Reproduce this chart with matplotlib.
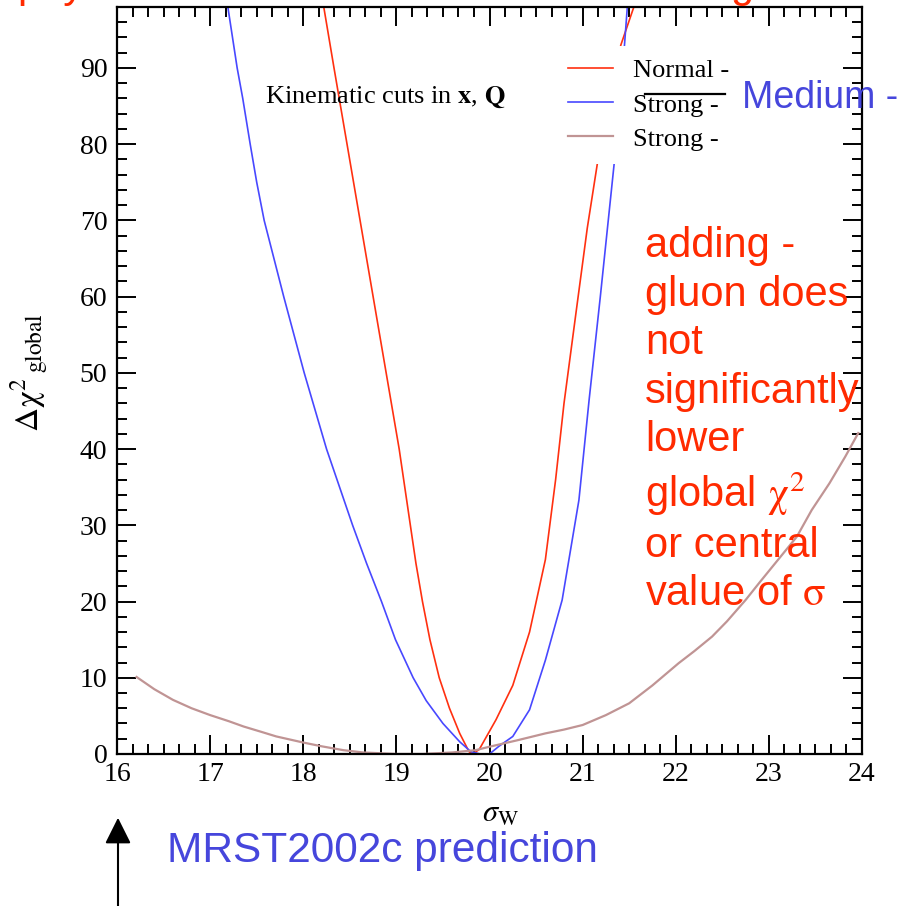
import numpy as np
import matplotlib
matplotlib.use('Agg')
import matplotlib.pyplot as plt
from matplotlib.ticker import MultipleLocator, AutoMinorLocator
from matplotlib.lines import Line2D

plt.rcParams['font.family'] = ['Liberation Serif', 'DejaVu Serif']
plt.rcParams['mathtext.fontset'] = 'stix'

# delta chi^2 curves
normal_x = [18.22, 18.33, 18.47, 18.61, 18.75, 18.89, 19.03, 19.15, 19.21, 19.28,
            19.36, 19.46, 19.57, 19.68, 19.78, 19.82, 19.89, 20.07, 20.25, 20.43,
            20.60, 20.71, 20.80, 20.93, 21.05, 21.16, 21.30, 21.41, 21.55]
normal_y = [98.0, 90.0, 80.0, 70.0, 60.0, 50.0, 40.0, 30.0, 25.0, 20.0,
            15.0, 10.0, 6.0, 2.7, 0.3, 0.0, 0.6, 4.5, 9.0, 16.0,
            25.5, 36.0, 46.0, 58.0, 69.0, 77.6, 86.0, 93.0, 98.0]

medium_x = [17.19, 17.29, 17.35, 17.43, 17.50, 17.58, 17.79, 18.01, 18.25, 18.53,
            18.68, 18.84, 18.99, 19.18, 19.32, 19.50, 19.68, 19.80, 19.90, 20.00,
            20.10, 20.25, 20.43, 20.60, 20.78, 20.96, 21.07, 21.19, 21.34, 21.45,
            21.48]
medium_y = [98.0, 90.0, 86.0, 80.0, 75.0, 70.0, 60.0, 50.0, 40.0, 30.0,
            25.0, 20.0, 15.0, 10.0, 7.0, 4.0, 1.6, 0.3, 0.0, 0.0,
            1.0, 2.3, 5.8, 12.3, 20.2, 33.3, 46.5, 60.0, 77.6, 93.1,
            98.0]

strong_x = [16.21, 16.40, 16.60, 16.80, 17.00, 17.20, 17.36, 17.55, 17.71, 18.00,
            18.20, 18.43, 18.64, 19.00, 19.28, 19.60, 19.85, 20.00, 20.30, 20.60,
            20.80, 21.00, 21.25, 21.50, 21.75, 22.03, 22.20, 22.39, 22.55, 22.75,
            22.90, 23.10, 23.30, 23.46, 23.65, 23.82, 23.96]
strong_y = [10.1, 8.5, 7.1, 6.0, 5.1, 4.3, 3.6, 2.9, 2.3, 1.5,
            1.0, 0.5, 0.2, 0.0, 0.0, 0.2, 0.5, 0.95, 1.8, 2.7,
            3.2, 3.8, 5.1, 6.65, 9.0, 11.9, 13.5, 15.4, 17.4, 20.2,
            22.5, 25.5, 28.5, 32.0, 35.5, 39.0, 42.1]

labels = ['Normal -', 'Strong -', 'Strong -']
colors = ['#ff3010', '#4848ff', '#c09494']

fig = plt.figure(figsize=(9.01, 9.06), dpi=100)
ax = fig.add_axes([0.1299, 0.1678, 0.8268, 0.8245])

l1, = ax.plot(normal_x, normal_y, color=colors[0], lw=1.2)
l2, = ax.plot(medium_x, medium_y, color=colors[1], lw=1.2)
l3, = ax.plot(strong_x, strong_y, color=colors[2], lw=1.6)

ax.set_xlim(16, 24)
ax.set_ylim(0, 98)
ax.xaxis.set_major_locator(MultipleLocator(1))
ax.xaxis.set_minor_locator(AutoMinorLocator(6))
ax.yaxis.set_major_locator(MultipleLocator(10))
ax.yaxis.set_minor_locator(MultipleLocator(2))
ax.tick_params(which='both', direction='in', top=True, right=True, width=1.4,
               labelsize=20)
ax.tick_params(which='major', length=14)
ax.tick_params(which='minor', length=7)
ax.tick_params(axis='y', pad=7)
ax.tick_params(axis='x', pad=6)
for s in ax.spines.values():
    s.set_linewidth(1.6)

ax.set_xlabel(r'$\sigma_{\mathrm{W}}$', fontsize=22)
ax.xaxis.set_label_coords(0.515, -0.062)
ax.set_ylabel(r'$\Delta\mathrm{\chi}^{2}\,{}_{\mathrm{global}}$', fontsize=24)
ax.yaxis.set_label_coords(-0.088, 0.51)

leg = ax.legend([l1, l2, l3], labels, loc='upper left', bbox_to_anchor=(0.588, 0.948),
                borderaxespad=0, fontsize=19, frameon=True, fancybox=False,
                handlelength=1.7, handletextpad=0.75, labelspacing=0.4, borderpad=0.5)
leg.get_frame().set_edgecolor('none')
leg.get_frame().set_facecolor('white')
leg.get_frame().set_alpha(1)

fig.text(0.294, 0.893, r'Kinematic cuts in $\mathbf{x}$, $\mathbf{Q}$', fontsize=19,
         va='center', ha='left')

# overlay from the slide
fig.add_artist(Line2D([0.716, 0.805], [0.8962, 0.8962], color='black', lw=1.6,
                      transform=fig.transFigure))
fig.text(0.823, 0.892, 'Medium -', fontsize=27, family='Liberation Sans',
         color='#4646dc', va='center', ha='left')

note = ('adding -\ngluon does\nnot\nsignificantly\nlower\n'
        'global $\\mathrm{\\chi}^{2}$\nor central\nvalue of $\\mathrm{\\sigma}$')
fig.text(0.716, 0.750, note, fontsize=30, family='Liberation Sans', color='#ff2a00',
         va='top', ha='left', linespacing=1.27)

fig.text(0.185, 0.0486, 'MRST2002c prediction', fontsize=30.5, family='Liberation Sans',
         color='#4646dc', va='baseline', ha='left')
ax.annotate('', xy=(118 / 901, 91 / 906), xytext=(118 / 901, -0.01),
            xycoords='figure fraction', textcoords='figure fraction',
            arrowprops=dict(arrowstyle='-|>', color='black', lw=1.5, mutation_scale=40))

# clipped slide title at the very top
fig.text(0.019, 1.003, 'physics', fontsize=30, family='Liberation Sans',
         color='#ff2a00', va='baseline', ha='left')
fig.text(0.811, 1.003, 'g', fontsize=30, family='Liberation Sans',
         color='#ff2a00', va='baseline', ha='left')

fig.savefig('out.png', dpi=100)
